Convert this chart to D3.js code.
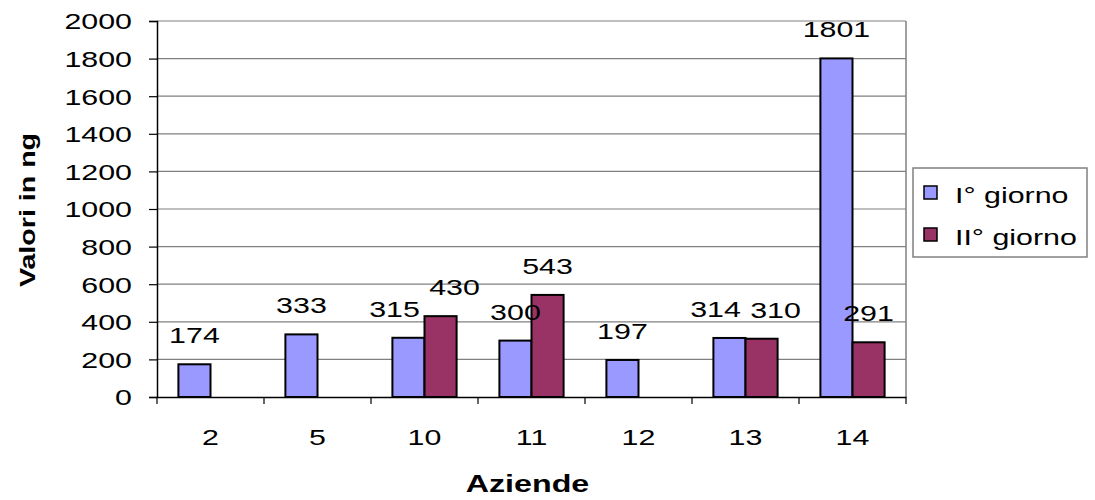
<!DOCTYPE html>
<html>
<head>
<meta charset="utf-8">
<script src="https://cdn.jsdelivr.net/npm/d3@7"></script>
<style>
  body { margin: 0; background: #fff; }
  svg { font-family: "Liberation Sans", Arial, sans-serif; }
</style>
</head>
<body>
<svg id="chart" width="1095" height="500"></svg>
<script>
// chart data
const aziende = ['2', '5', '10', '11', '12', '13', '14'];
const serie = ['I° giorno', 'II° giorno'];
const giorno1 = [174, 333, 315, 300, 197, 314, 1801];
const giorno2 = [null, null, 430, 543, null, 310, 291];
const yTicks = [0, 200, 400, 600, 800, 1000, 1200, 1400, 1600, 1800, 2000];
const colori = ['#9999ff', '#993366'];

const svg = d3.select('#chart');
const width = +svg.attr('width');
const height = +svg.attr('height');
const margin = { top: 21, right: 189, bottom: 103, left: 157 };
const innerWidth = width - margin.left - margin.right;
const innerHeight = height - margin.top - margin.bottom;
const stretch = 1.38; // text in the original is drawn wide

// widen a text selection along its own direction
const widen = (sel, k) => sel.each(function () {
  const len = this.getComputedTextLength();
  d3.select(this).attr('textLength', len * k).attr('lengthAdjust', 'spacingAndGlyphs');
});

const rows = aziende.map((a, i) => ({ azienda: a, values: [giorno1[i], giorno2[i]] }));

const x0 = d3.scaleBand().domain(aziende).range([0, innerWidth]);
const x1 = d3.scaleBand().domain(serie)
  .range([x0.bandwidth() * 0.2, x0.bandwidth() * 0.8]);
const y = d3.scaleLinear().domain([0, 2000]).range([innerHeight, 0]);

const g = svg.append('g').attr('transform', `translate(${margin.left},${margin.top})`);

// gridlines
g.selectAll('.grid').data(yTicks.filter(t => t > 0)).join('line')
  .attr('class', 'grid')
  .attr('x1', 0).attr('x2', innerWidth)
  .attr('y1', d => y(d)).attr('y2', d => y(d))
  .attr('stroke', '#808080').attr('stroke-width', 1.2);

// right border of plot area
g.append('line')
  .attr('x1', innerWidth).attr('x2', innerWidth)
  .attr('y1', 0).attr('y2', innerHeight)
  .attr('stroke', '#808080').attr('stroke-width', 1.5);

// bars
const groups = g.selectAll('.group').data(rows).join('g')
  .attr('class', 'group')
  .attr('transform', d => `translate(${x0(d.azienda)},0)`);

const barData = d => d.values
  .map((v, i) => ({ serie: serie[i], value: v, idx: i }))
  .filter(b => b.value != null);

groups.selectAll('rect').data(barData).join('rect')
  .attr('x', d => x1(d.serie))
  .attr('y', d => y(d.value))
  .attr('width', x1.bandwidth())
  .attr('height', d => innerHeight - y(d.value))
  .attr('fill', d => colori[d.idx])
  .attr('stroke', '#000')
  .attr('stroke-width', 2);

// value labels, pushed apart sideways when two in a group sit at the same height
groups.each(function (d) {
  const bars = barData(d);
  const clash = bars.length === 2 && Math.abs(y(bars[0].value) - y(bars[1].value)) < 22;
  d3.select(this).selectAll('.label').data(bars).join('text')
    .attr('class', 'label')
    .attr('x', b => x1(b.serie) + x1.bandwidth() / 2 + (clash ? (b.idx ? 14 : -14) : 0))
    .attr('y', b => y(b.value) - 21)
    .attr('text-anchor', 'middle')
    .attr('font-size', 22)
    .attr('fill', '#000')
    .text(b => b.value)
    .call(widen, stretch);
});

// y axis
const yAxis = g.append('g')
  .call(d3.axisLeft(y).tickValues(yTicks).tickFormat(d3.format('d')).tickSize(8).tickPadding(0));
yAxis.select('.domain').attr('stroke', '#000').attr('stroke-width', 1.5);
yAxis.selectAll('.tick line').attr('stroke', '#000').attr('stroke-width', 1.2);
yAxis.selectAll('.tick text')
  .attr('x', -25).attr('dy', '0.36em')
  .attr('font-size', 22)
  .attr('font-family', '"Liberation Sans", Arial, sans-serif')
  .attr('fill', '#000')
  .call(widen, stretch);

// x axis
const xAxis = g.append('g')
  .attr('transform', `translate(0,${innerHeight})`)
  .call(d3.axisBottom(x0).tickSize(0).tickPadding(0));
xAxis.select('.domain').attr('stroke', '#000').attr('stroke-width', 1.5);
xAxis.selectAll('.tick text')
  .attr('y', 48).attr('dy', 0)
  .attr('font-size', 22)
  .attr('font-family', '"Liberation Sans", Arial, sans-serif')
  .attr('fill', '#000')
  .call(widen, stretch);

// x ticks between categories
const bounds = aziende.map(a => x0(a)).concat([innerWidth]);
xAxis.selectAll('.sep').data(bounds).join('line')
  .attr('class', 'sep')
  .attr('x1', d => d).attr('x2', d => d)
  .attr('y1', 0).attr('y2', 7)
  .attr('stroke', '#000').attr('stroke-width', 1.2);

// axis titles
svg.append('text')
  .attr('x', margin.left + innerWidth / 2 - 4)
  .attr('y', 492)
  .attr('text-anchor', 'middle')
  .attr('font-size', 23)
  .attr('font-weight', 'bold')
  .text('Aziende')
  .call(widen, 1.4);

svg.append('text')
  .attr('transform', 'translate(35,210) rotate(-90)')
  .attr('text-anchor', 'middle')
  .attr('font-size', 22)
  .attr('font-weight', 'bold')
  .text('Valori in ng')
  .call(widen, 1.3);

// legend
const legend = svg.append('g').attr('transform', 'translate(913,168)');
legend.append('rect')
  .attr('width', 174).attr('height', 89)
  .attr('fill', '#fff')
  .attr('stroke', '#808080').attr('stroke-width', 1.5);

const items = legend.selectAll('.item').data(serie).join('g')
  .attr('class', 'item')
  .attr('transform', (d, i) => `translate(11,${18 + i * 42})`);
items.append('rect')
  .attr('width', 13).attr('height', 13)
  .attr('fill', (d, i) => colori[i])
  .attr('stroke', '#000').attr('stroke-width', 1.5);
items.append('text')
  .attr('x', 31).attr('y', 17)
  .attr('font-size', 22)
  .text(d => d)
  .call(widen, stretch);
</script>
</body>
</html>
